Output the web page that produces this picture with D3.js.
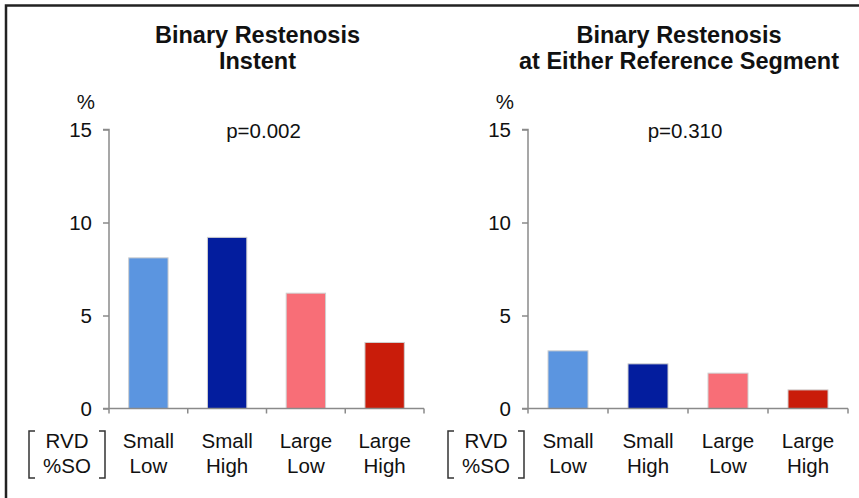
<!DOCTYPE html>
<html>
<head>
<meta charset="utf-8">
<script src="https://cdn.jsdelivr.net/npm/d3@7"></script>
<style>
  body { margin: 0; background: #fff; }
  svg { display: block; font-family: "Liberation Sans", Arial, sans-serif; }
</style>
</head>
<body>
<svg id="mainSvg" width="859" height="498"></svg>
<script>
// data
const groupLine1 = ["Small", "Small", "Large", "Large"];   // RVD
const groupLine2 = ["Low", "High", "Low", "High"];         // %SO
const instentValues = [8.1, 9.2, 6.2, 3.55];
const referenceValues = [3.1, 2.4, 1.9, 1.0];
const panelTitles = [["Binary Restenosis", "Instent"], ["Binary Restenosis", "at Either Reference Segment"]];
const pValues = ["p=0.002", "p=0.310"];
const yTicks = [0, 5, 10, 15];
const barColors = ["#5b95e0", "#031d9e", "#f86e77", "#c91c0a"];

let svg = d3.select('#mainSvg');
let width = +svg.attr('width'), height = +svg.attr('height');

// frame (top + left edges visible)
svg.append("path")
    .attr("d", `M6,${height} V5.5 H${width}`)
    .attr("fill", "none")
    .attr("stroke", "#222")
    .attr("stroke-width", 2.5);

const panels = [
    {x0: 109, x1: 424, values: instentValues, title: panelTitles[0], p: pValues[0]},
    {x0: 528, x1: 848, values: referenceValues, title: panelTitles[1], p: pValues[1]}
];

const y = d3.scaleLinear().domain([0, 15]).range([408.5, 129.5]);
const axisColor = "#8a8a8a";

panels.forEach(function (pn) {
    const g = svg.append("g");
    const x = d3.scaleBand()
        .domain(d3.range(pn.values.length))
        .range([pn.x0, pn.x1])
        .paddingInner(0.5)
        .paddingOuter(0.25);
    const cx = (pn.x0 + pn.x1) / 2;

    // title
    g.selectAll("text.title").data(pn.title).join("text")
        .attr("class", "title")
        .attr("x", cx - 9)
        .attr("y", (d, i) => 43 + i * 26)
        .attr("text-anchor", "middle")
        .attr("font-size", "23.5px")
        .attr("font-weight", "bold")
        .attr("fill", "#111")
        .text(d => d);

    // bars
    g.selectAll("rect").data(pn.values).join("rect")
        .attr("x", (d, i) => x(i))
        .attr("y", d => y(d))
        .attr("width", x.bandwidth())
        .attr("height", d => y(0) - y(d))
        .attr("fill", (d, i) => barColors[i])
        .attr("stroke", "#cfcfcf")
        .attr("stroke-width", 1);

    // y axis
    const yAxis = g.append("g")
        .attr("transform", `translate(${pn.x0},0)`)
        .call(d3.axisLeft(y).tickValues(yTicks).tickSize(6).tickPadding(11));
    yAxis.select(".domain").attr("stroke", axisColor).attr("stroke-width", 1.5)
        .attr("d", `M-6,${y(15)}H0V${y(0)}`);
    yAxis.selectAll(".tick line").attr("stroke", axisColor).attr("stroke-width", 1.5);
    yAxis.selectAll(".tick text")
        .attr("font-size", "20.5px")
        .attr("font-family", "Liberation Sans, Arial, sans-serif")
        .attr("fill", "#111");

    // x axis: ticks at band edges
    const edges = d3.range(pn.values.length + 1).map(i => pn.x0 + i * x.step());
    g.append("line")
        .attr("x1", pn.x0 - 6).attr("x2", pn.x1)
        .attr("y1", y(0)).attr("y2", y(0))
        .attr("stroke", axisColor).attr("stroke-width", 1.5);
    g.selectAll("line.xt").data(edges).join("line")
        .attr("class", "xt")
        .attr("x1", d => d).attr("x2", d => d)
        .attr("y1", y(0)).attr("y2", y(0) + 5)
        .attr("stroke", axisColor).attr("stroke-width", 1.5);

    // % unit label
    g.append("text")
        .attr("x", pn.x0 - 14)
        .attr("y", 109)
        .attr("text-anchor", "end")
        .attr("font-size", "20.5px")
        .attr("fill", "#111")
        .text("%");

    // p value
    g.append("text")
        .attr("x", cx - 3)
        .attr("y", 138)
        .attr("text-anchor", "middle")
        .attr("font-size", "20.5px")
        .attr("fill", "#111")
        .text(pn.p);

    // category labels
    const labels = g.selectAll("g.cat").data(groupLine1).join("g")
        .attr("class", "cat")
        .attr("transform", (d, i) => `translate(${x(i) + x.bandwidth() / 2},0)`);
    labels.append("text")
        .attr("y", 448).attr("text-anchor", "middle")
        .attr("font-size", "20.5px").attr("fill", "#111")
        .text(d => d);
    labels.append("text")
        .attr("y", 473).attr("text-anchor", "middle")
        .attr("font-size", "20.5px").attr("fill", "#111")
        .text((d, i) => groupLine2[i]);

    // bracketed row legend
    const lx = pn.x0 - 42;
    g.append("text").attr("x", lx).attr("y", 448).attr("text-anchor", "middle")
        .attr("font-size", "20.5px").attr("fill", "#111").text("RVD");
    g.append("text").attr("x", lx).attr("y", 473).attr("text-anchor", "middle")
        .attr("font-size", "20.5px").attr("fill", "#111").text("%SO");
    g.append("path")
        .attr("d", `M${lx - 32},431 H${lx - 38} V478 H${lx - 32}`)
        .attr("fill", "none").attr("stroke", "#333").attr("stroke-width", 1.5);
    g.append("path")
        .attr("d", `M${lx + 32},431 H${lx + 38} V478 H${lx + 32}`)
        .attr("fill", "none").attr("stroke", "#333").attr("stroke-width", 1.5);
});
</script>
</body>
</html>
